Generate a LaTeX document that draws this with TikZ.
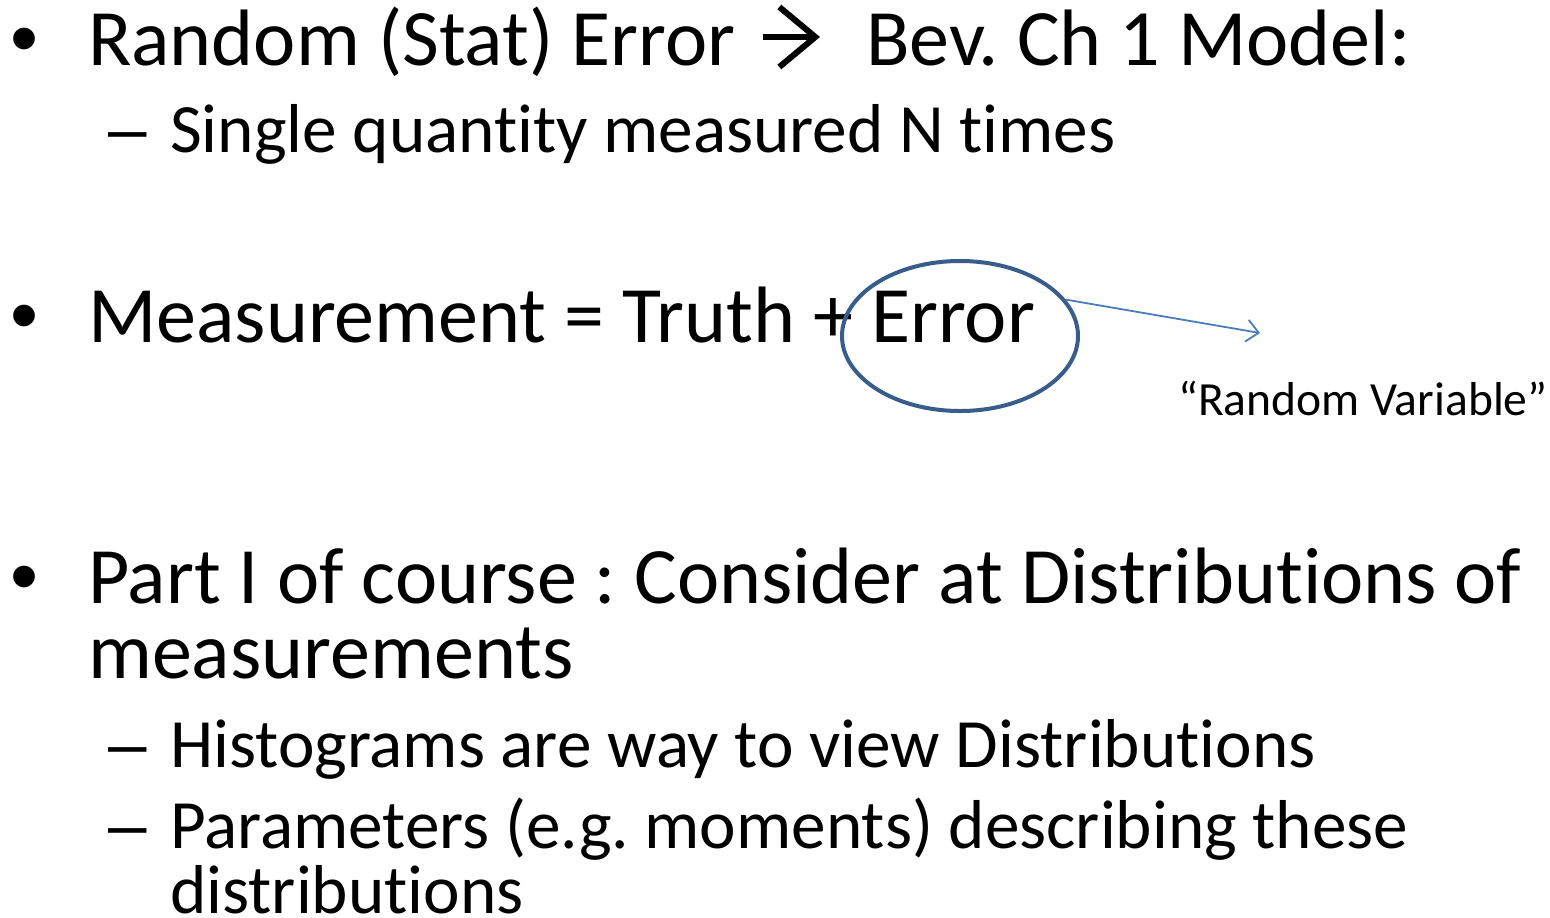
\documentclass[tikz,border=0pt]{standalone}
\usepackage{fontspec}
\setmainfont{Carlito}[Ligatures=NoCommon]
\newfontfamily\markfont{Liberation Sans}
\usetikzlibrary{arrows.meta,shapes.geometric}
\definecolor{ovalblue}{RGB}{56,93,138}
\definecolor{arrowblue}{RGB}{74,126,187}

\begin{document}
\frenchspacing
\begin{tikzpicture}[x=1pt,y=-1pt,
    lvlone/.style={anchor=base west,inner sep=0pt,font=\fontsize{80}{75}\selectfont},
    lvltwo/.style={anchor=base west,inner sep=0pt,font=\fontsize{69.2}{65}\selectfont},
    dotmark/.style={anchor=base west,inner sep=0pt,font=\markfont\fontsize{80}{75}\selectfont},
    dashmark/.style={anchor=base west,inner sep=0pt,font=\markfont\fontsize{69.2}{65}\selectfont},
    note/.style={anchor=base west,inner sep=0pt,font=\fontsize{47.6}{50}\selectfont}]
    \useasboundingbox (0,0) rectangle (1550,918);

    % first item
    \node[dotmark] (b1) at (10,65) {•};
    \node[lvlone] (t1) at (88,65) {Random (Stat) Error};
    \node[lvlone] (t1b) at (866,65) {Bev. Ch 1 Model:};
    \draw[line width=6,-{Straight Barb[length=36pt,width=60pt]}]
        ([shift={(27,-28)}]t1.base east) -- ([shift={(-46,-28)}]t1b.base west);
    \node[dashmark] (d1) at (108,152) {–};
    \node[lvltwo] (s1) at (170,152) {Single quantity measured N times};

    % second item
    \node[dotmark] (b2) at (10,342) {•};
    \node[lvlone] (t2) at (88,342) {Measurement = Truth + Error};
    \node[ellipse,draw=ovalblue,line width=4,minimum width=236,minimum height=150] (err) at (960,336) {};
    \coordinate (tip) at (1260,333);
    \draw[arrowblue,line width=1.8,-{Straight Barb[length=12,width=22]}] (err.19) -- (tip);
    \node[note] (rv) at (1178,415) {“Random Variable”};

    % third item
    \node[dotmark] (b3) at (10,603) {•};
    \node[lvlone] (t3) at (88,603) {Part I of course : Consider at Distributions of};
    \node[lvlone] (t3b) at (88,678) {measurements};
    \node[dashmark] (d2) at (108,767) {–};
    \node[lvltwo] (s2) at (170,767) {Histograms are way to view Distributions};
    \node[dashmark] (d3) at (108,848) {–};
    \node[lvltwo] (s3) at (170,848) {Parameters (e.g. moments) describing these};
    \node[lvltwo] (s3b) at (170,913) {distributions};
\end{tikzpicture}
\end{document}
